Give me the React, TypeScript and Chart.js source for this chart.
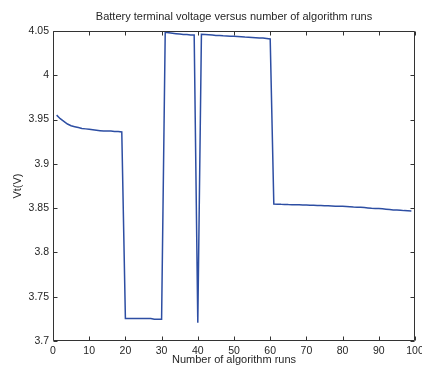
import React, { useEffect, useRef } from "react";
import { Chart, registerables } from "chart.js";

Chart.register(...registerables);

const runs: number[] = [
  1, 2, 3, 4, 5, 6, 7, 8, 9, 10, 11, 12, 13, 14, 15, 16, 17, 18, 19, 20,
  21, 22, 23, 24, 25, 26, 27, 28, 29, 30, 31, 32, 33, 34, 35, 36, 37, 38, 39, 40,
  41, 42, 43, 44, 45, 46, 47, 48, 49, 50, 51, 52, 53, 54, 55, 56, 57, 58, 59, 60,
  61, 62, 63, 64, 65, 66, 67, 68, 69, 70, 71, 72, 73, 74, 75, 76, 77, 78, 79, 80,
  81, 82, 83, 84, 85, 86, 87, 88, 89, 90, 91, 92, 93, 94, 95, 96, 97, 98, 99,
];

const voltage: number[] = [
  3.955, 3.951, 3.948, 3.945, 3.943, 3.942, 3.941, 3.940, 3.9395, 3.939,
  3.9385, 3.938, 3.9375, 3.937, 3.937, 3.937, 3.9365, 3.9365, 3.936, 3.7255,
  3.7255, 3.7255, 3.7255, 3.7255, 3.7255, 3.7255, 3.7255, 3.7245, 3.7245, 3.7245,
  4.0485, 4.048, 4.0475, 4.047, 4.0465, 4.046, 4.046, 4.0455, 4.0455, 3.7205,
  4.0462, 4.046, 4.0458, 4.0455, 4.045, 4.0448, 4.0445, 4.0443, 4.044, 4.044,
  4.0438, 4.0435, 4.0432, 4.043, 4.0428, 4.0425, 4.0422, 4.042, 4.0415, 4.041,
  3.8547, 3.8545, 3.8543, 3.8542, 3.854, 3.8539, 3.8538, 3.8537, 3.8536, 3.8535,
  3.8533, 3.8532, 3.853, 3.853, 3.8528, 3.8526, 3.8524, 3.8522, 3.852, 3.852,
  3.8518, 3.8515, 3.8512, 3.851, 3.851, 3.8506, 3.8502, 3.8498, 3.8495, 3.8495,
  3.8492, 3.8488, 3.8484, 3.848, 3.848, 3.8476, 3.8472, 3.847, 3.8468,
];

const xTickValues: number[] = [0, 10, 20, 30, 40, 50, 60, 70, 80, 90, 100];
const yTickValues: number[] = [3.7, 3.75, 3.8, 3.85, 3.9, 3.95, 4.0, 4.05];

const titleText = "Battery terminal voltage versus number of algorithm runs";
const xTitle = "Number of algorithm runs";
const yTitle = "Vt(V)";

const FONT = "'Liberation Sans', Arial, sans-serif";
const TEXT = "#262626";
const AXIS = "#333333";

const framePlugin = {
  id: "frame",
  afterDraw(chart: any) {
    const { ctx, chartArea, scales } = chart;
    const { left, right, top, bottom } = chartArea;
    const x = scales.x;
    const y = scales.y;
    ctx.save();
    ctx.strokeStyle = AXIS;
    ctx.lineWidth = 1;
    const L = Math.round(left) + 0.5;
    const R = Math.round(right) - 0.5;
    const T = Math.round(top) + 0.5;
    const B = Math.round(bottom) - 0.5;
    ctx.beginPath();
    ctx.rect(L, T, R - L, B - T);
    ctx.stroke();
    const tl = 4;
    ctx.beginPath();
    x.ticks.forEach((t: any) => {
      const px = Math.round(x.getPixelForValue(t.value)) + 0.5;
      ctx.moveTo(px, B);
      ctx.lineTo(px, B - tl);
      ctx.moveTo(px, T);
      ctx.lineTo(px, T + tl);
    });
    y.ticks.forEach((t: any) => {
      const py = Math.round(y.getPixelForValue(t.value)) + 0.5;
      ctx.moveTo(L, py);
      ctx.lineTo(L + tl, py);
      ctx.moveTo(R, py);
      ctx.lineTo(R - tl, py);
    });
    ctx.stroke();
    // chart title centred over the plot area
    ctx.fillStyle = TEXT;
    ctx.font = "11px " + FONT;
    ctx.textAlign = "center";
    ctx.textBaseline = "middle";
    ctx.fillText(titleText, (left + right) / 2, 17);
    ctx.restore();
  },
};

export default function App() {
  const ref = useRef<HTMLCanvasElement | null>(null);

  useEffect(() => {
    if (!ref.current) return;
    const points = runs.map((r, i) => ({ x: r, y: voltage[i] }));
    const chart = new Chart(ref.current, {
      type: "line",
      data: {
        datasets: [
          {
            data: points,
            borderColor: "#2d4ea3",
            borderWidth: 1.5,
            pointRadius: 0,
            tension: 0,
            fill: false,
          },
        ],
      },
      options: {
        responsive: false,
        animation: false,
        devicePixelRatio: 1,
        layout: { padding: { right: 7, top: 31 } },
        plugins: {
          legend: { display: false },
          tooltip: { enabled: false },
          title: { display: false },
        },
        scales: {
          x: {
            type: "linear",
            min: 0,
            max: 100,
            afterBuildTicks: (s: any) => {
              s.ticks = xTickValues.map((v) => ({ value: v }));
            },
            afterFit: (s: any) => {
              s.height = 31;
              s.paddingLeft = 0;
              s.paddingRight = 0;
            },
            grid: { display: false, drawTicks: false },
            border: { display: false },
            ticks: {
              color: TEXT,
              font: { family: FONT, size: 10.5 },
              padding: 4,
              maxRotation: 0,
              autoSkip: false,
            },
            title: {
              display: true,
              text: xTitle,
              color: TEXT,
              font: { family: FONT, size: 11 },
              padding: { top: 0, bottom: 5 },
            },
          },
          y: {
            type: "linear",
            min: 3.7,
            max: 4.05,
            afterBuildTicks: (s: any) => {
              s.ticks = yTickValues.map((v) => ({ value: v }));
            },
            afterFit: (s: any) => {
              s.width = 53;
              s.paddingTop = 0;
              s.paddingBottom = 0;
            },
            grid: { display: false, drawTicks: false },
            border: { display: false },
            ticks: {
              color: TEXT,
              font: { family: FONT, size: 10.5 },
              padding: 4,
              autoSkip: false,
              callback: (v: any) => String(parseFloat(Number(v).toFixed(2))),
            },
            title: {
              display: true,
              text: yTitle,
              color: TEXT,
              font: { family: FONT, size: 11 },
              padding: { top: 11, bottom: 0 },
            },
          },
        },
      },
      plugins: [framePlugin],
    });
    return () => chart.destroy();
  }, []);

  return (
    <div style={{ position: "absolute", left: 0, top: 0, width: 422, height: 372, background: "#fff" }}>
      <canvas ref={ref} width={422} height={372} style={{ display: "block" }} />
    </div>
  );
}
